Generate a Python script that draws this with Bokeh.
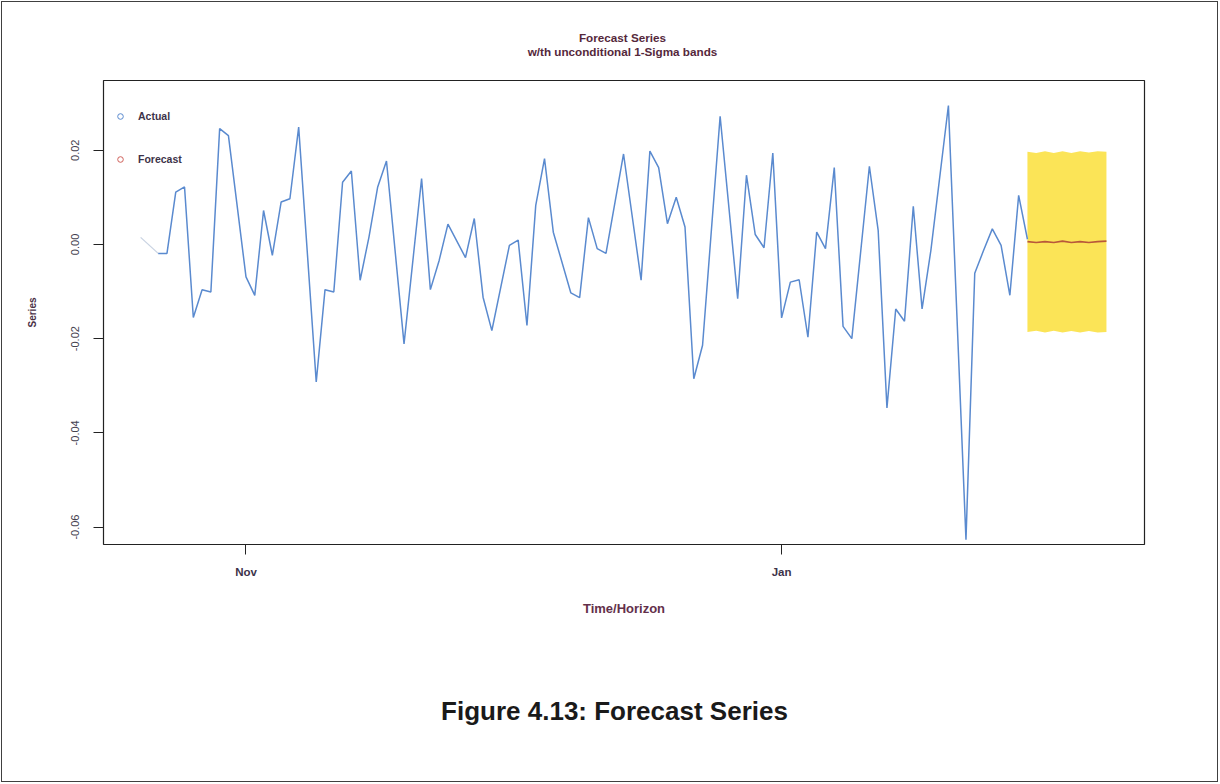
import pandas as pd
from bokeh.plotting import figure
from bokeh.layouts import column
from bokeh.models import (Range1d, FixedTicker, DatetimeTickFormatter, NumeralTickFormatter,
                          Legend, LegendItem, ColumnDataSource, Div)
from bokeh.embed import file_html
from bokeh.resources import INLINE

# ---------------- data ----------------
actual_dates = [
    "2012-10-20", "2012-10-22", "2012-10-23", "2012-10-24", "2012-10-25", "2012-10-26",
    "2012-10-27", "2012-10-28", "2012-10-29", "2012-10-30",
    "2012-11-01", "2012-11-02", "2012-11-03", "2012-11-04", "2012-11-05", "2012-11-06",
    "2012-11-07", "2012-11-09", "2012-11-10", "2012-11-11", "2012-11-12", "2012-11-13",
    "2012-11-14", "2012-11-15", "2012-11-16", "2012-11-17", "2012-11-19", "2012-11-21",
    "2012-11-22", "2012-11-23", "2012-11-24", "2012-11-26", "2012-11-27", "2012-11-28",
    "2012-11-29",
    "2012-12-01", "2012-12-02", "2012-12-03", "2012-12-04", "2012-12-05", "2012-12-06",
    "2012-12-08", "2012-12-09", "2012-12-10", "2012-12-11", "2012-12-12", "2012-12-14",
    "2012-12-16", "2012-12-17", "2012-12-18", "2012-12-19", "2012-12-20", "2012-12-21",
    "2012-12-22", "2012-12-23", "2012-12-25", "2012-12-27", "2012-12-28", "2012-12-29",
    "2012-12-30", "2012-12-31",
    "2013-01-01", "2013-01-02", "2013-01-03", "2013-01-04", "2013-01-05", "2013-01-06",
    "2013-01-07", "2013-01-08", "2013-01-09", "2013-01-11", "2013-01-12", "2013-01-13",
    "2013-01-14", "2013-01-15", "2013-01-16", "2013-01-17", "2013-01-18", "2013-01-20",
    "2013-01-22", "2013-01-23", "2013-01-24", "2013-01-25", "2013-01-26", "2013-01-27",
    "2013-01-28", "2013-01-29",
]
actual_values = [
    0.0015, -0.0019, -0.0019, 0.0111, 0.0122, -0.0155, -0.0096, -0.0101, 0.0246, 0.0231,
    -0.0069, -0.0108, 0.0072, -0.0023, 0.0090, 0.0097, 0.0249, -0.0292, -0.0096, -0.0101,
    0.0132, 0.0156, -0.0076, 0.0015, 0.0122, 0.0177, -0.0211, 0.0140, -0.0096, -0.0034,
    0.0043, -0.0028, 0.0055, -0.0112, -0.0183,
    -0.0002, 0.0009, -0.0172, 0.0083, 0.0182, 0.0026, -0.0103, -0.0113, 0.0057, -0.0009,
    -0.0019, 0.0192, -0.0076, 0.0198, 0.0163, 0.0044, 0.0100, 0.0037, -0.0285, -0.0214,
    0.0272, -0.0115, 0.0147, 0.0021, -0.0007, 0.0194,
    -0.0156, -0.0080, -0.0075, -0.0197, 0.0026, -0.0009, 0.0163, -0.0174, -0.0200, 0.0166,
    0.0030, -0.0347, -0.0137, -0.0163, 0.0081, -0.0137, -0.0013, 0.0295, -0.0627, -0.0061,
    -0.0013, 0.0033, -0.0002, -0.0108, 0.0104, 0.0011,
]
forecast_dates = ["2013-01-29", "2013-01-30", "2013-01-31", "2013-02-01", "2013-02-02",
                  "2013-02-03", "2013-02-04", "2013-02-05", "2013-02-06", "2013-02-07"]
forecast_values = [0.0006, 0.0004, 0.0006, 0.0004, 0.0007, 0.0004, 0.0006, 0.0004, 0.0006, 0.0007]
band_upper = [0.0197, 0.0194, 0.0198, 0.0194, 0.0198, 0.0194, 0.0198, 0.0195, 0.0198, 0.0197]
band_lower = [-0.0186, -0.0183, -0.0187, -0.0183, -0.0187, -0.0184, -0.0187, -0.0184, -0.0187, -0.0186]

x_tick_dates = ["2012-11-01", "2013-01-01"]
x_tick_labels = ["Nov", "Jan"]
y_ticks = [-0.06, -0.04, -0.02, 0.0, 0.02]
x_limits = ("2012-10-15 18:30", "2013-02-11 08:00")
y_limits = (-0.0637, 0.0348)

title_lines = ["Forecast Series", "w/th unconditional 1-Sigma bands"]
caption_text = "Figure 4.13: Forecast Series"

assert len(actual_dates) == len(actual_values)

# ---------------- styling ----------------
FONT = "Liberation Sans"
BLUE = "#5A8ACF"
PALE = "#C9D3E2"
BROWN = "#B8583A"
YELLOW = "#FBE457"
TITLE_COL = "#55283B"
TEXT_COL = "#3D3349"


def ms(d):
    return pd.Timestamp(d).timestamp() * 1000.0


act = ColumnDataSource(dict(x=pd.to_datetime(actual_dates), y=actual_values))
head = ColumnDataSource(dict(x=pd.to_datetime(actual_dates[:2]), y=actual_values[:2]))
body = ColumnDataSource(dict(x=pd.to_datetime(actual_dates[1:]), y=actual_values[1:]))
fc = ColumnDataSource(dict(x=pd.to_datetime(forecast_dates), y=forecast_values,
                           lo=band_lower, hi=band_upper))

W, H_TOTAL = 1215, 779
HT = 60                        # title strip above the chart
HF = 580                       # chart canvas
HC = H_TOTAL - HT - HF         # caption strip below the chart
L, R, T = 101, 73, 18
B = HF - T - 464
fig = figure(width=W, height=HF, x_axis_type="datetime",
             x_range=Range1d(ms(x_limits[0]), ms(x_limits[1])),
             y_range=Range1d(*y_limits),
             output_backend="svg", toolbar_location=None, title=None,
             min_border_left=L, min_border_right=R, min_border_top=T, min_border_bottom=B)
fig.background_fill_color = "white"
fig.border_fill_color = "white"
fig.outline_line_color = "#222222"
fig.outline_line_width = 1.2
fig.grid.visible = False

# band, forecast and actual series
fig.varea(x="x", y1="lo", y2="hi", source=fc, fill_color=YELLOW, fill_alpha=1.0)
fig.line(x="x", y="y", source=head, line_color=PALE, line_width=1.3)
fig.line(x="x", y="y", source=body, line_color=BLUE, line_width=1.5)
fig.line(x="x", y="y", source=fc, line_color=BROWN, line_width=1.6)

# axes
xa = fig.xaxis[0]
xa.ticker = FixedTicker(ticks=[ms(d) for d in x_tick_dates])
fmt = "%b"
xa.formatter = DatetimeTickFormatter(microseconds=fmt, milliseconds=fmt, seconds=fmt,
                                     minsec=fmt, minutes=fmt, hourmin=fmt, hours=fmt,
                                     days=fmt, months=fmt, years=fmt)
xa.axis_label = "Time/Horizon"
xa.axis_label_text_font = FONT
xa.axis_label_text_font_size = "13px"
xa.axis_label_text_font_style = "bold"
xa.axis_label_text_color = "#63304A"
xa.axis_label_standoff = 20
xa.major_label_text_font = FONT
xa.major_label_text_font_size = "11.5px"
xa.major_label_text_font_style = "bold"
xa.major_label_text_color = TEXT_COL
xa.major_label_standoff = 11
xa.axis_line_color = None
xa.major_tick_out = 10
xa.major_tick_in = 0
xa.major_tick_line_color = "#222222"
xa.minor_tick_line_color = None

ya = fig.yaxis[0]
ya.ticker = FixedTicker(ticks=y_ticks)
ya.formatter = NumeralTickFormatter(format="0.00")
ya.major_label_orientation = "vertical"
ya.major_label_text_font = FONT
ya.major_label_text_font_size = "11px"
ya.major_label_text_color = "#45424F"
ya.major_label_standoff = 14
ya.axis_label = "Series"
ya.axis_label_text_font = FONT
ya.axis_label_text_font_size = "10px"
ya.axis_label_text_font_style = "bold"
ya.axis_label_text_color = "#4A3045"
ya.axis_label_standoff = 31
ya.axis_line_color = None
ya.major_tick_out = 10
ya.major_tick_in = 0
ya.major_tick_line_color = "#222222"
ya.minor_tick_line_color = None

# legend (open circles, as in the reference); hidden marker renderers on the real data
r_act = fig.scatter(x="x", y="y", source=act, marker="circle", size=5, fill_color=None,
                    line_color=BLUE, line_width=1, visible=False)
r_fc = fig.scatter(x="x", y="y", source=fc, marker="circle", size=5, fill_color=None,
                   line_color="#D0605A", line_width=1, visible=False)
legend = Legend(items=[LegendItem(label="Actual", renderers=[r_act]),
                       LegendItem(label="Forecast", renderers=[r_fc])],
                location=(10, 378), orientation="vertical",
                glyph_width=14, glyph_height=14, label_height=14, label_width=10,
                spacing=29, padding=0, margin=0, label_standoff=11,
                border_line_color=None, background_fill_alpha=0,
                inactive_fill_alpha=0,
                label_text_font=FONT, label_text_font_size="10.5px",
                label_text_font_style="bold", label_text_color=TEXT_COL)
fig.add_layout(legend)

# two-line title (each line centred) above the chart
title_div = Div(
    text=("<div style=\"width:100%; box-sizing:border-box; text-align:center; "
          "padding-left:26px; padding-top:29px; "
          "font-family:'Liberation Sans', Arial, sans-serif; font-weight:bold; "
          f"font-size:11.7px; line-height:13.7px; color:{TITLE_COL};\">"
          + "<br>".join(title_lines) + "</div>"),
    width=W, height=HT, margin=0,
    styles={"text-align": "center", "width": f"{W}px"})

# figure caption below the chart
caption = Div(
    text=("<div style=\"width:100%; box-sizing:border-box; text-align:center; "
          "padding-left:10px; padding-top:54px; "
          "font-family:'Liberation Sans', Arial, sans-serif; font-weight:bold; "
          "font-size:26px; line-height:30px; color:#1A1A1A;\">"
          + caption_text + "</div>"),
    width=W, height=HC, margin=0,
    styles={"text-align": "center", "width": f"{W}px"})

p = column(title_div, fig, caption, spacing=0,
           styles={"border": "1.5px solid #404040", "margin": "1px"})
open("out.html", "w").write(file_html(p, INLINE))
